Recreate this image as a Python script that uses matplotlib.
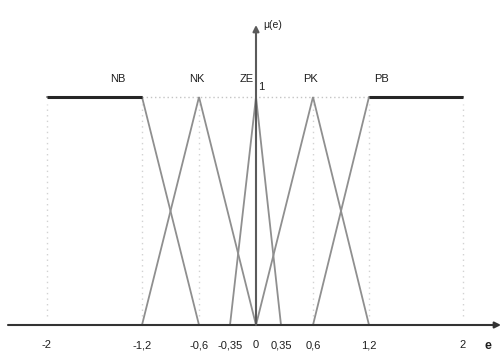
import numpy as np
import matplotlib
matplotlib.use("Agg")
import matplotlib.pyplot as plt

# Membership functions of the error e (fuzzy sets NB, NK, ZE, PK, PB)
tick_values = [-2, -1.2, -0.6, -0.35, 0, 0.35, 0.6, 1.2, 2]
tick_labels = ["-2", "-1,2", "-0,6", "-0,35", "0", "0,35", "0,6", "1,2", "2"]

nb_e = [-2, -1.2, -0.6]
nb_mu = [1, 1, 0]
nk_e = [-1.2, -0.6, 0]
nk_mu = [0, 1, 0]
ze_e = [-0.35, 0, 0.35]
ze_mu = [0, 1, 0]
pk_e = [0, 0.6, 1.2]
pk_mu = [0, 1, 0]
pb_e = [0.6, 1.2, 2]
pb_mu = [0, 1, 1]

set_names = ["NB", "NK", "ZE", "PK", "PB"]
set_label_e = [-1.40, -0.62, -0.12, 0.58, 1.31]

# the e axis is drawn schematically, not to a linear scale
_vals = np.array([-2.6, -2, -1.2, -0.6, -0.35, 0, 0.35, 0.6, 1.2, 2, 2.6])
_pos = np.array([-25, 47, 142, 199, 230, 256, 281, 313, 369, 463, 535], float)


def fwd(v):
    return np.interp(v, _vals, _pos)


def inv(p):
    return np.interp(p, _pos, _vals)


fig = plt.figure(figsize=(5.01, 3.58), dpi=100)
ax = fig.add_axes([0, 0, 1, 1])
ax.set_xscale("function", functions=(fwd, inv))
ax.set_xlim(inv(0), inv(501))
ax.set_ylim(-(358 - 325) / 228, 325 / 228)
ax.axis("off")

font = ["Liberation Sans Narrow", "Liberation Sans", "DejaVu Sans"]
grey = "#8f8f8f"
txt = "#1e1e1e"

# dotted guides
for v in [-2, -1.2, -0.6, 0.6, 1.2, 2]:
    ax.plot([v, v], [0.04, 0.97], color="#d2d2d2", lw=1, ls=(0, (1, 3)))
ax.plot([-1.2, 1.2], [1, 1], color="#c4c4c4", lw=1, ls=(0, (1, 2)))

# sloped parts
for e, mu in [(nb_e, nb_mu), (nk_e, nk_mu), (ze_e, ze_mu), (pk_e, pk_mu), (pb_e, pb_mu)]:
    ax.plot(e, mu, color=grey, lw=1.3, solid_joinstyle="miter")

# saturated plateaus of NB and PB
ax.plot(nb_e[:2], nb_mu[:2], color="#262626", lw=2.2, solid_capstyle="butt")
ax.plot(pb_e[1:], pb_mu[1:], color="#262626", lw=2.2, solid_capstyle="butt")

# axes with arrows
ax.annotate("", xy=(inv(501), 0), xytext=(inv(8), 0),
            arrowprops=dict(arrowstyle="-|>", color="#333333", lw=1.5,
                            mutation_scale=9, shrinkA=0, shrinkB=0))
ax.annotate("", xy=(0, 300 / 228), xytext=(0, 0),
            arrowprops=dict(arrowstyle="-|>", color="#5a5a5a", lw=1.5,
                            mutation_scale=9, shrinkA=0, shrinkB=0))

for v, lab in zip(tick_values, tick_labels):
    ax.text(v, -0.088, lab, ha="center", va="center", fontsize=8,
            family=font, color=txt)
ax.text(inv(488), -0.09, "e", ha="center", va="center", fontsize=9,
        family=font, color=txt, fontweight="bold")
ax.text(inv(263), 300 / 228, "μ(e)", ha="left", va="center", fontsize=7.5,
        family=font, color=txt)
ax.text(inv(261), 1.045, "1", ha="center", va="center", fontsize=8,
        family=font, color=txt)

for name, e in zip(set_names, set_label_e):
    ax.text(e, 1.08, name, ha="center", va="center", fontsize=8,
            family=font, color=txt)

fig.savefig("out.png", dpi=100)
